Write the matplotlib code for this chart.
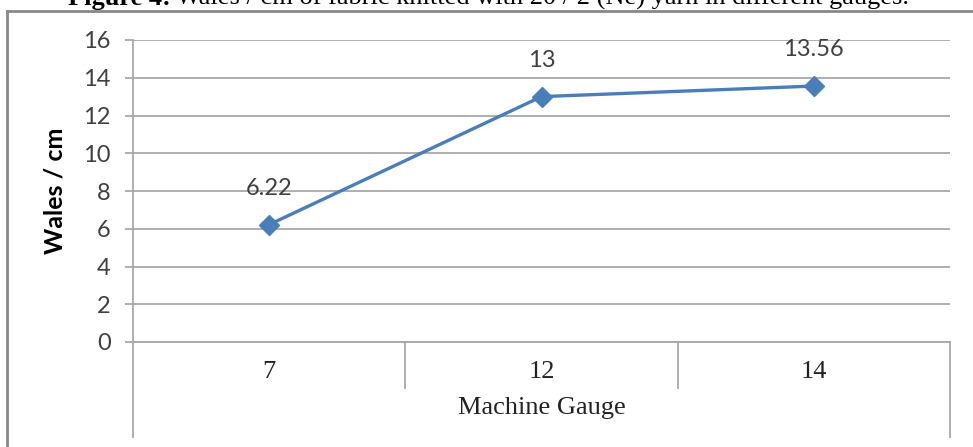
import matplotlib
matplotlib.use("Agg")
import matplotlib.pyplot as plt
from matplotlib.lines import Line2D
from matplotlib import transforms


gauges = ["7", "12", "14"]
wales = [6.22, 13, 13.56]
wales_labels = ["6.22", "13", "13.56"]
y_ticks = [0, 2, 4, 6, 8, 10, 12, 14, 16]

caption_bold = "Figure 4:"
caption_rest = "Wales / cm of fabric knitted with 20 / 2 (Ne) yarn in different gauges."

line_color = "#4a7ebb"
grid_color = "#a8a8a8"
text_color = "#404040"
sans = "Lato"
serif = "Liberation Serif"

fig = plt.figure(figsize=(9.73, 4.47), dpi=100)
ax = fig.add_axes([133 / 973, 105 / 447, 817 / 973, 302 / 447])

x = list(range(len(gauges)))
ax.plot(x, wales, color=line_color, lw=2.4, marker="D", ms=10, zorder=3)
for xi, v, lab in zip(x, wales, wales_labels):
    ax.annotate(lab, (xi, v), xytext=(0, 26), textcoords="offset points",
                ha="center", va="center", fontsize=17, family=sans, color=text_color)

ax.set_xlim(-0.5, len(gauges) - 0.5)
ax.set_ylim(0, 16)
ax.set_yticks(y_ticks)
ax.set_yticklabels([str(t) for t in y_ticks], family=sans, fontsize=17, color=text_color)
ax.yaxis.grid(True, color=grid_color, lw=1.3)
ax.set_axisbelow(True)
ax.tick_params(axis="y", length=6, width=1.3, color=grid_color, pad=10)

ax.set_xticks(x)
ax.set_xticklabels(gauges, family=serif, fontsize=19, color="#222222")
ax.tick_params(axis="x", length=0, pad=14)

for s in ["top", "right", "left"]:
    ax.spines[s].set_visible(False)
ax.spines["bottom"].set_color(grid_color)
ax.spines["bottom"].set_linewidth(1.3)

# category table lines below the axis
tr = transforms.blended_transform_factory(ax.transData, ax.transAxes)
bounds = [i - 0.5 for i in range(len(gauges) + 1)]
for i, b in enumerate(bounds):
    bottom = -0.315 if i in (0, len(bounds) - 1) else -0.152
    top = 1.0 if i == 0 else 0.0
    ax.add_line(Line2D([b, b], [bottom, top], transform=tr, color=grid_color,
                       lw=1.3, clip_on=False))

ax.set_xlabel("Machine Gauge", family=serif, fontsize=19, color="#222222", labelpad=10)
ax.set_ylabel("Wales / cm", family=sans, fontsize=18, fontweight="bold", color="black", labelpad=12)

# outer frame (left and top edges)
fig.add_artist(Line2D([7 / 973, 7 / 973], [0, 1 - 11 / 447], transform=fig.transFigure,
                      color="#888888", lw=2))
fig.add_artist(Line2D([7 / 973, 1], [1 - 11 / 447, 1 - 11 / 447], transform=fig.transFigure,
                      color="#888888", lw=2))

# caption, cut off at the top edge as in the source page
t1 = fig.text(68 / 973, 1 - 5 / 447, caption_bold, family=serif, fontsize=19,
              fontweight="bold", va="baseline", ha="left")
fig.canvas.draw()
ext = t1.get_window_extent()
fig.text(ext.x1 / 973 + 5 / 973, 1 - 5 / 447, caption_rest, family=serif, fontsize=19,
         va="baseline", ha="left")

fig.savefig("out.png", dpi=100)
